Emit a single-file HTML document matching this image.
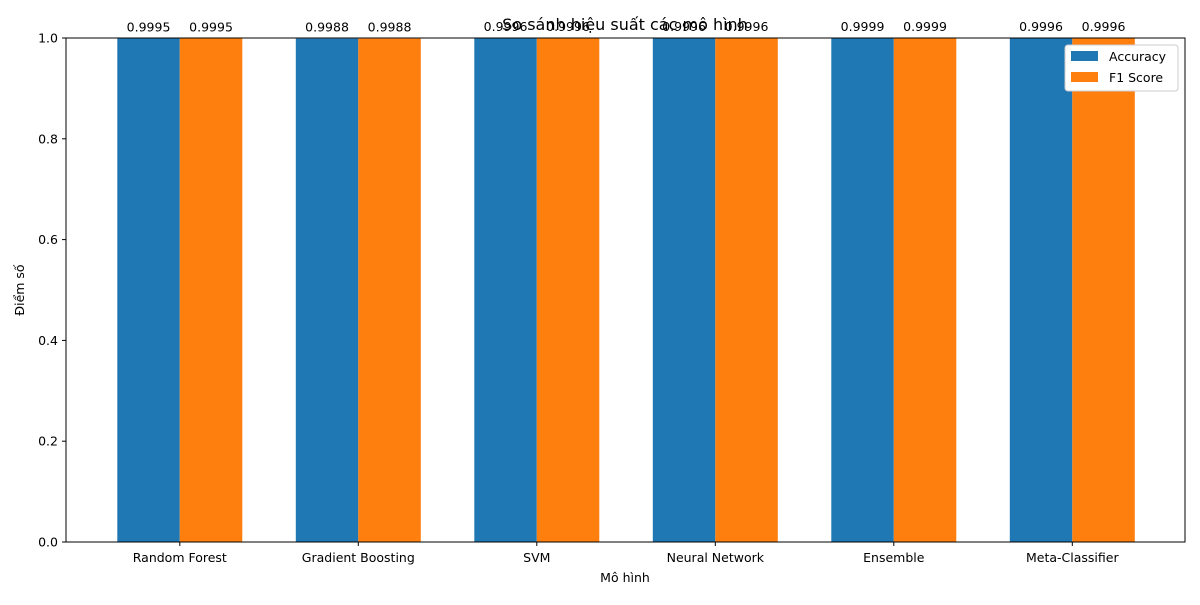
<!DOCTYPE html>
<html><head><meta charset="utf-8"><style>
body{margin:0;background:#fff;font-family:"Liberation Sans","DejaVu Sans",sans-serif;}
</style></head><body>
<svg width="1200" height="600" xmlns="http://www.w3.org/2000/svg" font-family="DejaVu Sans, Liberation Sans, sans-serif">
<g id="bars"></g>
<g id="axes"></g>
<text x="625" y="30" text-anchor="middle" font-size="16">So sánh hiệu suất các mô hình</text>
<text x="625" y="582" text-anchor="middle" font-size="12.5">Mô hình</text>
<text x="24" y="290" text-anchor="middle" font-size="12.5" transform="rotate(-90 24 290)">Điểm số</text>
<g>
<rect x="1065" y="45" width="113" height="46" fill="#fff" stroke="#ccc" rx="3"/>
<rect x="1071" y="51" width="27" height="10" fill="#1f77b4"/>
<text x="1109" y="61" font-size="12.5">Accuracy</text>
<rect x="1071" y="72" width="27" height="10" fill="#ff7f0e"/>
<text x="1109" y="82" font-size="12.5">F1 Score</text>
</g>
</svg>
<script>
const categories=["Random Forest","Gradient Boosting","SVM","Neural Network","Ensemble","Meta-Classifier"];
const accuracy=[0.9995,0.9988,0.9996,0.9996,0.9999,0.9996];
const f1=[0.9995,0.9988,0.9996,0.9996,0.9999,0.9996];
const yTicks=[0,0.2,0.4,0.6,0.8,1.0];
const L=66,R=1185,T=38,B=542;
const x0=179.8,step=178.5,bw=62.5;
const xs=i=>x0+step*i;
const ys=v=>B-(B-T)*v;
const NS="http://www.w3.org/2000/svg";
const bars=document.getElementById('bars'),axes=document.getElementById('axes');
function mk(tag,attrs,parent,txt){const e=document.createElementNS(NS,tag);for(const k in attrs)e.setAttribute(k,attrs[k]);if(txt!==undefined)e.textContent=txt;parent.appendChild(e);return e;}
[[accuracy,'#1f77b4',-1,'accuracy'],[f1,'#ff7f0e',0,'f1']].forEach(([s,c,o,n])=>{
 s.forEach((v,i)=>{
  const x=xs(i)+o*bw;
  const r=mk('rect',{x:x,y:ys(v),width:bw,height:B-ys(v),fill:c},bars);
  
  
  const t=mk('text',{x:x+bw/2,y:ys(v)-7,'text-anchor':'middle','font-size':12.5},bars,v.toFixed(4));
  
  
 });
});
mk('rect',{x:L,y:T,width:R-L,height:B-T,fill:'none',stroke:'#000','stroke-width':1},axes);
yTicks.forEach(v=>{
 mk('line',{x1:L-4,x2:L,y1:ys(v),y2:ys(v),stroke:'#000'},axes);
 const t=mk('text',{x:L-8,y:ys(v)+4.5,'text-anchor':'end','font-size':12.5},axes,v.toFixed(1));
 
 
});
categories.forEach((c,i)=>{
 mk('line',{x1:xs(i),x2:xs(i),y1:B,y2:B+4,stroke:'#000'},axes);
 const t=mk('text',{x:xs(i),y:B+20,'text-anchor':'middle','font-size':12.5},axes,c);
 
 
});
</script>
</body></html>
